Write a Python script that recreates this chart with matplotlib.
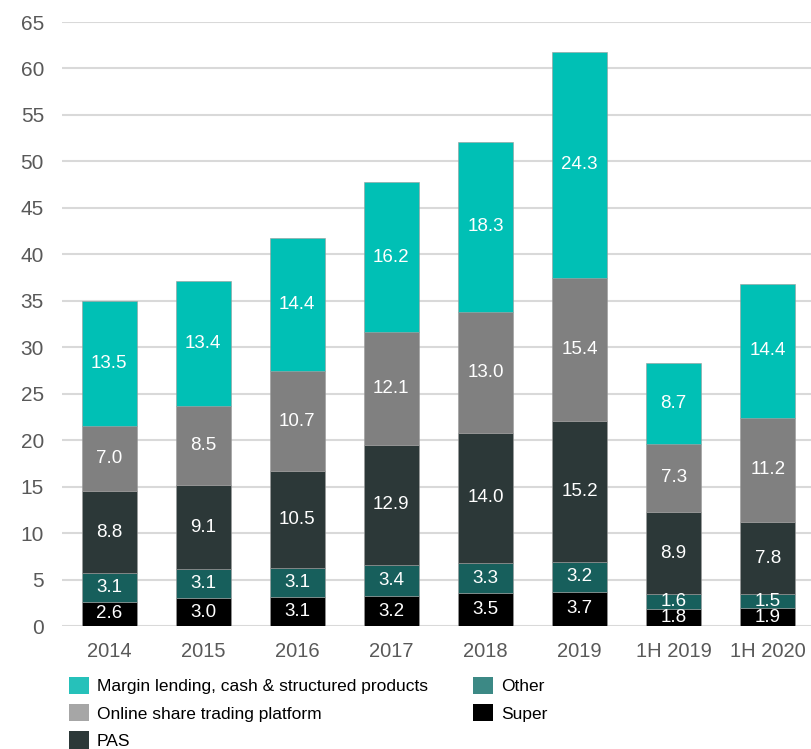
import numpy as np
import matplotlib.pyplot as plt
from matplotlib.patches import Patch

plt.rcParams['font.family'] = ['Liberation Sans', 'DejaVu Sans']

# Revenue by segment (A$m)
periods = ['2014', '2015', '2016', '2017', '2018', '2019', '1H 2019', '1H 2020']
super_ = [2.6, 3.0, 3.1, 3.2, 3.5, 3.7, 1.8, 1.9]
other = [3.1, 3.1, 3.1, 3.4, 3.3, 3.2, 1.6, 1.5]
pas = [8.8, 9.1, 10.5, 12.9, 14.0, 15.2, 8.9, 7.8]
online = [7.0, 8.5, 10.7, 12.1, 13.0, 15.4, 7.3, 11.2]
margin = [13.5, 13.4, 14.4, 16.2, 18.3, 24.3, 8.7, 14.4]

series = [
    ('Super', super_, '#000000', '#000000'),
    ('Other', other, '#175F5C', '#3C8985'),
    ('PAS', pas, '#2C3838', '#2C3838'),
    ('Online share trading platform', online, '#808080', '#A6A6A6'),
    ('Margin lending, cash & structured products', margin, '#00C0B5', '#26C1BA'),
]

fig = plt.figure(figsize=(8.12, 7.49), dpi=100)
ax = fig.add_axes([62 / 812, 123 / 749, 750 / 812, 604 / 749])

x = np.arange(len(periods))
bottom = np.zeros(len(periods))
for name, vals, col, _ in series:
    vals = np.array(vals)
    ax.bar(x, vals, 0.585, bottom=bottom, color=col, edgecolor='#9a9a9a',
           linewidth=0.4, zorder=3)
    for xi, b, v in zip(x, bottom, vals):
        ax.text(xi, b + v / 2, f'{v:.1f}', ha='center', va='center',
                color='white', fontsize=13.5, zorder=4)
    bottom += vals

ax.set_ylim(0, 65)
ax.set_xlim(-0.5, 7.47)
ax.set_yticks(range(0, 66, 5))
ax.set_xticks(x)
ax.set_xticklabels(periods)
ax.yaxis.grid(True, color='#D9D9D9', linewidth=1.5, zorder=0)
for s in ax.spines.values():
    s.set_visible(False)
ax.tick_params(axis='both', length=0, labelcolor='#595959')
ax.tick_params(axis='y', pad=13, labelsize=15)
ax.tick_params(axis='x', pad=11.5, labelsize=14.5)

# legend uses lighter swatches, listed column by column
order = [4, 3, 2, 1, 0]
handles = [Patch(facecolor=series[i][3], edgecolor='none') for i in order]
labels = [series[i][0] for i in order]
fig.legend(handles, labels, loc='upper left', bbox_to_anchor=(69 / 812, 1 - 677 / 749),
           ncol=2, frameon=False, fontsize=12.5, handlelength=1.15, handleheight=1.15,
           handletextpad=0.46, labelspacing=0.56, columnspacing=2.6, borderpad=0,
           borderaxespad=0)

fig.savefig('out.png', dpi=100)
